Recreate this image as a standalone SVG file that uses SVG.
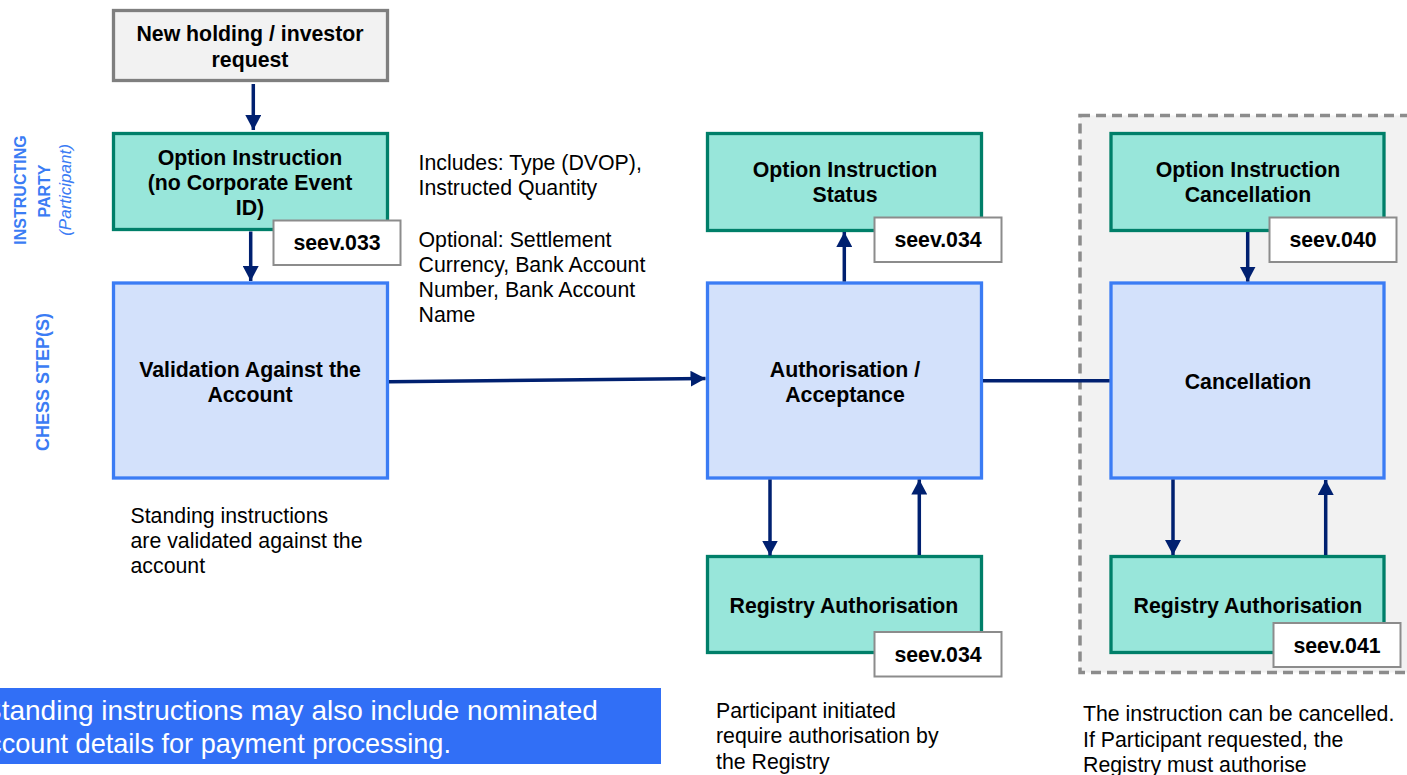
<svg xmlns="http://www.w3.org/2000/svg" width="1407" height="775" viewBox="0 0 1407 775">
<style>
text{font-family:"Liberation Sans",Arial,sans-serif;fill:#000}
.b{font-weight:bold;font-size:21.3px;text-anchor:middle}
.t{font-size:21.3px}
.gray{fill:#F2F2F2;stroke:#7F7F7F;stroke-width:3.3}
.teal{fill:#98E6DA;stroke:#007F69;stroke-width:3.3}
.blue{fill:#D3E1FB;stroke:#3B7CF4;stroke-width:3.3}
.lab{fill:#fff;stroke:#8C8C8C;stroke-width:2}
.side{fill:#3B7CF4;font-weight:bold}
.c{stroke:#002070;stroke-width:3.5;fill:none}
</style>
<defs>
<marker id="ah" markerUnits="userSpaceOnUse" markerWidth="16" markerHeight="16" viewBox="0 0 16 16" refX="15" refY="8" orient="auto">
<path d="M0,0 L15,8 L0,16 Z" fill="#002070"/>
</marker>
</defs>
<rect width="1407" height="775" fill="#fff"/>

<g id="cancel-region">
<rect x="1080" y="115.5" width="340" height="557" fill="#F2F2F2" stroke="#8C8C8C" stroke-width="3.5" stroke-dasharray="10 6"/>
</g>

<g id="side-labels">
<text class="side" font-size="16" transform="translate(25.5,190) rotate(-90)" text-anchor="middle">INSTRUCTING</text>
<text class="side" font-size="16" transform="translate(49.5,191) rotate(-90)" text-anchor="middle">PARTY</text>
<text font-size="17" font-style="italic" style="fill:#3B7CF4" transform="translate(71,190) rotate(-90)" text-anchor="middle">(Participant)</text>
<text class="side" font-size="18" transform="translate(49,382) rotate(-90)" text-anchor="middle">CHESS STEP(S)</text>
</g>

<g id="new-holding">
<rect class="gray" x="113.5" y="10.5" width="274" height="70"/>
<text class="b" x="250" y="41">New holding / investor</text>
<text class="b" x="250" y="66.5">request</text>
</g>

<g id="option-instruction">
<rect class="teal" x="113.5" y="133.5" width="274" height="96"/>
<text class="b" x="250" y="165">Option Instruction</text>
<text class="b" x="250" y="190">(no Corporate Event</text>
<text class="b" x="250" y="215">ID)</text>
<rect class="lab" x="273.5" y="220.5" width="127" height="44.5"/>
<text class="b" x="337" y="250">seev.033</text>
</g>

<g id="validation">
<rect class="blue" x="113.5" y="283" width="274" height="195"/>
<text class="b" x="250" y="377">Validation Against the</text>
<text class="b" x="250" y="402">Account</text>
</g>

<g id="option-status">
<rect class="teal" x="707.5" y="133.5" width="274" height="97"/>
<text class="b" x="845" y="177">Option Instruction</text>
<text class="b" x="845" y="202">Status</text>
<rect class="lab" x="874.5" y="217.5" width="127" height="44.5"/>
<text class="b" x="938" y="247">seev.034</text>
</g>

<g id="authorisation">
<rect class="blue" x="707.5" y="283" width="274" height="195"/>
<text class="b" x="845" y="377">Authorisation /</text>
<text class="b" x="845" y="402">Acceptance</text>
</g>

<g id="registry-auth-1">
<rect class="teal" x="707.5" y="556.5" width="274" height="96"/>
<text class="b" x="844" y="612.5">Registry Authorisation</text>
<rect class="lab" x="874.5" y="632" width="127" height="44.5"/>
<text class="b" x="938" y="662">seev.034</text>
</g>

<g id="option-cancellation">
<rect class="teal" x="1111" y="133.5" width="273" height="97"/>
<text class="b" x="1248" y="177">Option Instruction</text>
<text class="b" x="1248" y="202">Cancellation</text>
<rect class="lab" x="1269.5" y="217.5" width="127" height="44.5"/>
<text class="b" x="1333" y="247">seev.040</text>
</g>

<g id="cancellation">
<rect class="blue" x="1111" y="283" width="273" height="195"/>
<text class="b" x="1248" y="389">Cancellation</text>
</g>

<g id="registry-auth-2">
<rect class="teal" x="1111" y="556.5" width="273" height="96"/>
<text class="b" x="1248" y="612.5">Registry Authorisation</text>
<rect class="lab" x="1273.5" y="623" width="127" height="44"/>
<text class="b" x="1337" y="653">seev.041</text>
</g>

<g id="connectors">
<line class="c" x1="253.3" y1="84" x2="253.3" y2="130" marker-end="url(#ah)"/>
<line class="c" x1="250.7" y1="231.5" x2="250.7" y2="281" marker-end="url(#ah)"/>
<line class="c" x1="389" y1="381.8" x2="705.5" y2="378.5" marker-end="url(#ah)"/>
<line class="c" x1="844.3" y1="281.5" x2="844.3" y2="232" marker-end="url(#ah)"/>
<line class="c" x1="983" y1="380.7" x2="1109.5" y2="380.7"/>
<line class="c" x1="770" y1="479.5" x2="770" y2="555.5" marker-end="url(#ah)"/>
<line class="c" x1="919.3" y1="555" x2="919.3" y2="479.5" marker-end="url(#ah)"/>
<line class="c" x1="1247.7" y1="232" x2="1247.7" y2="281.5" marker-end="url(#ah)"/>
<line class="c" x1="1173" y1="479.5" x2="1173" y2="555" marker-end="url(#ah)"/>
<line class="c" x1="1325.7" y1="555" x2="1325.7" y2="480" marker-end="url(#ah)"/>
</g>

<g id="notes">
<text class="t"><tspan x="418.5" y="170">Includes: Type (DVOP),</tspan><tspan x="418.5" y="195">Instructed Quantity</tspan><tspan x="418.5" y="247">Optional: Settlement</tspan><tspan x="418.5" y="272">Currency, Bank Account</tspan><tspan x="418.5" y="297">Number, Bank Account</tspan><tspan x="418.5" y="322">Name</tspan></text>
<text class="t"><tspan x="130.5" y="523">Standing instructions</tspan><tspan x="130.5" y="548">are validated against the</tspan><tspan x="130.5" y="573">account</tspan></text>
<text class="t"><tspan x="716" y="717.5">Participant initiated</tspan><tspan x="716" y="743">require authorisation by</tspan><tspan x="716" y="768.5">the Registry</tspan></text>
<text class="t"><tspan x="1083" y="721">The instruction can be cancelled.</tspan><tspan x="1083" y="746.5">If Participant requested, the</tspan><tspan x="1083" y="772">Registry must authorise</tspan></text>
</g>

<g id="banner">
<rect x="0" y="688" width="661" height="76" fill="#316FF6"/>
<text font-size="28" style="fill:#fff" x="-17" y="720">Standing instructions may also include nominated</text>
<text font-size="28" style="fill:#fff" x="-27" y="752.5" textLength="478" lengthAdjust="spacingAndGlyphs">account details for payment processing.</text>
</g>
</svg>
